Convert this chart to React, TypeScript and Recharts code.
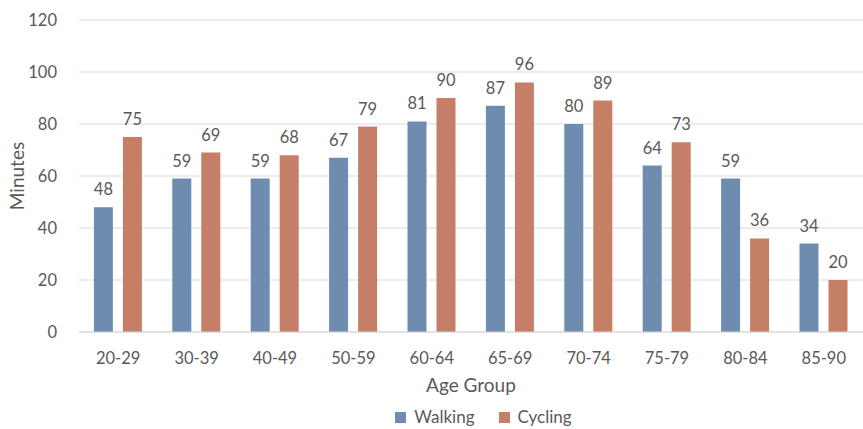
import { BarChart, Bar, XAxis, YAxis, CartesianGrid, Legend, LabelList } from "recharts";

const ageGroups = ["20-29", "30-39", "40-49", "50-59", "60-64", "65-69", "70-74", "75-79", "80-84", "85-90"];
const walking = [48, 59, 59, 67, 81, 87, 80, 64, 59, 34];
const cycling = [75, 69, 68, 79, 90, 96, 89, 73, 36, 20];
const yTicks = [0, 20, 40, 60, 80, 100, 120];

const seriesNames = ["Walking", "Cycling"];
const seriesColors = ["#6e8bb0", "#c47f66"];

const data = ageGroups.map((group, i) => ({
  group,
  Walking: walking[i],
  Cycling: cycling[i],
}));

const TEXT = "#595959";
const FONT = "Lato, 'Open Sans', sans-serif";

function LegendBox() {
  return (
    <div style={{ display: "flex", justifyContent: "center", gap: 24, paddingLeft: 104, marginTop: 3, fontFamily: FONT, fontSize: 17, lineHeight: "20px", color: TEXT }}>
      {seriesNames.map((name, i) => (
        <div key={name} style={{ display: "flex", alignItems: "center", gap: 8 }}>
          <div style={{ width: 11, height: 11, background: seriesColors[i] }} />
          <span>{name}</span>
        </div>
      ))}
    </div>
  );
}

export default function App() {
  return (
    <div style={{ position: "fixed", left: 0, top: 0, background: "#fff", fontFamily: FONT }}>
      <BarChart
        width={863}
        height={429}
        data={data}
        margin={{ top: 20, right: 0, bottom: 0, left: 0 }}
        barCategoryGap="19%"
        barGap={10}
      >
        <CartesianGrid vertical={false} stroke="#d9d9d9" />
        <XAxis
          dataKey="group"
          height={72}
          tickLine={false}
          axisLine={{ stroke: "#d9d9d9" }}
          tick={{ fill: TEXT, fontSize: 16.5, fontFamily: FONT }}
          tickMargin={14}
          label={{ value: "Age Group", position: "insideBottom", offset: 12, fill: TEXT, fontSize: 19, fontFamily: FONT }}
        />
        <YAxis
          width={79}
          domain={[0, 120]}
          ticks={yTicks}
          tickLine={false}
          axisLine={false}
          tick={{ fill: TEXT, fontSize: 16.5, fontFamily: FONT }}
          tickMargin={16}
          label={{ value: "Minutes", angle: -90, position: "insideLeft", offset: 17, fill: TEXT, fontSize: 19, fontFamily: FONT, style: { textAnchor: "middle" } }}
        />
        <Legend verticalAlign="bottom" height={25} content={() => <LegendBox />} />
        <Bar dataKey="Walking" fill={seriesColors[0]} isAnimationActive={false}>
          <LabelList dataKey="Walking" position="top" offset={12} fill={TEXT} fontSize={16.5} fontFamily={FONT} />
        </Bar>
        <Bar dataKey="Cycling" fill={seriesColors[1]} isAnimationActive={false}>
          <LabelList dataKey="Cycling" position="top" offset={12} fill={TEXT} fontSize={16.5} fontFamily={FONT} />
        </Bar>
      </BarChart>
    </div>
  );
}
